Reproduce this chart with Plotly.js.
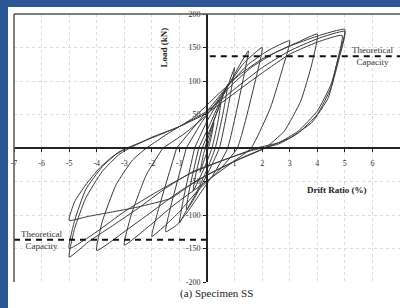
<!DOCTYPE html>
<html><head><meta charset="utf-8">
<script src="https://cdn.plot.ly/plotly-3.0.1.min.js"></script>
<style>html,body{margin:0;padding:0;background:#2c5596;}#chart{width:400px;height:308px;}</style>
</head><body><div id="chart"></div>
<script>
// Hysteresis cycles: drift ratio (%) and load (kN)
const c025x = [0, 0.12, 0.25, 0.12, 0, -0.12, -0.25, -0.12, 0];
const c025y = [0, 18, 38, 10, -6, -20, -36, -8, 6];
const c05x = [-0.08, 0.2, 0.5, 0.4, 0.18, -0.1, -0.5, -0.4, -0.18];
const c05y = [0, 35, 68, 40, 0, -30, -64, -38, 0];
const c075x = [-0.18, 0.2, 0.5, 0.75, 0.62, 0.3, 0, -0.4, -0.75, -0.62, -0.3];
const c075y = [0, 36, 68, 95, 60, 0, -32, -68, -92, -58, 0];
const c10x = [-0.3, 0.1, 0.5, 0.8, 1.0, 0.85, 0.45, 0, -0.5, -0.8, -1.0, -0.85, -0.45];
const c10y = [0, 35, 72, 98, 120, 80, 0, -40, -78, -97, -112, -75, 0];
const c15x = [-0.45, 0, 0.5, 0.8, 1.2, 1.5, 1.3, 0.75, 0.3, -0.2, -0.7, -1.1, -1.5, -1.3, -0.75];
const c15y = [0, 40, 75, 95, 125, 145, 100, 0, -35, -65, -95, -115, -125, -85, 0];
const c20x = [-0.75, -0.2, 0.4, 0.8, 1.3, 2.0, 1.75, 1.1, 0.4, -0.3, -1.0, -1.5, -2.0, -1.75, -1.1];
const c20y = [0, 38, 72, 95, 125, 150, 100, 0, -35, -62, -95, -115, -132, -90, 0];
const c30x = [-1.1, -0.5, 0.2, 0.8, 1.5, 2.2, 3.0, 2.75, 2.3, 1.6, 0.8, -0.2, -1.2, -2.2, -3.0, -2.75, -2.2, -1.6];
const c30y = [0, 30, 65, 95, 125, 145, 160, 120, 60, 0, -25, -55, -85, -120, -145, -100, -40, 0];
const c40x = [-1.6, -0.8, 0, 0.8, 1.6, 2.5, 3.3, 4.0, 3.8, 3.4, 2.8, 2.1, 1.0, 0, -1.0, -2.0, -3.0, -4.0, -3.8, -3.3, -2.7, -2.2];
const c40y = [0, 22, 50, 90, 120, 143, 158, 170, 125, 70, 25, 0, -20, -40, -65, -95, -125, -153, -110, -55, -18, 0];
const c5ax = [-2.2, -1.4, -0.5, 0.4, 1.2, 2.0, 3.0, 4.0, 5.0, 4.8, 4.5, 4.0, 3.3, 2.6, 1.8, 0.8, -0.5, -1.5, -2.5, -3.5, -4.3, -5.0, -4.8, -4.4, -3.8, -3.2, -2.8];
const c5ay = [0, 22, 45, 80, 110, 133, 152, 167, 177, 140, 95, 55, 25, 8, 0, -15, -35, -60, -90, -118, -140, -163, -120, -75, -35, -10, 0];
const c5bx = [-2.8, -2.0, -1.0, 0, 1.0, 2.0, 3.0, 4.0, 5.0, 4.8, 4.5, 4.0, 3.3, 2.6, 1.6, 0.6, -0.6, -1.8, -3.0, -4.0, -5.0, -4.8, -4.4, -3.8, -3.2, -2.9];
const c5by = [0, 16, 32, 55, 88, 120, 145, 163, 174, 135, 90, 50, 22, 6, -4, -18, -38, -65, -95, -125, -150, -108, -62, -28, -6, 0];
const c5cx = [-2.9, -2.0, -1.0, 0, 1.0, 2.0, 3.0, 4.0, 4.9, 4.7, 4.4, 3.8, 3.0, 2.3, 1.4, 0.5, -0.5, -1.3, -2.5, -3.5, -4.3, -5.0, -4.8, -4.4, -3.9, -3.4, -2.9];
const c5cy = [0, 15, 32, 52, 82, 112, 140, 158, 168, 125, 75, 38, 15, 3, -12, -30, -52, -75, -88, -96, -102, -108, -80, -55, -30, -12, 0];
// Theoretical capacity (kN)
const capPos = 137;
const capNeg = -137;
const capPosX = [0.1, 7];
const capNegX = [-7, 0];
// Tick labels
const xTicks = [-7, -6, -5, -4, -3, -2, -1, 1, 2, 3, 4, 5, 6, 7];
const yTicks = [-200, -150, -100, -50, 50, 100, 150, 200];

const cycles = [[c025x,c025y],[c05x,c05y],[c075x,c075y],[c10x,c10y],[c15x,c15y],[c20x,c20y],[c30x,c30y],[c40x,c40y],[c5ax,c5ay],[c5bx,c5by],[c5cx,c5cy]];
const traces = cycles.map(c => ({x:c[0], y:c[1], mode:'lines', line:{color:'#3a3a3a', width:1, shape:'spline', smoothing:0.45}, hoverinfo:'skip'}));
traces.push({x:capPosX, y:[capPos,capPos], mode:'lines', line:{color:'#111', width:2, dash:'6px,5px'}});
traces.push({x:capNegX, y:[capNeg,capNeg], mode:'lines', line:{color:'#111', width:2, dash:'6px,5px'}});

const serif = 'Liberation Serif, DejaVu Serif, serif';
const axisCommon = {anchor:'free', position:0.5, showline:true, linecolor:'#222', linewidth:2,
  ticks:'outside', ticklen:3, tickcolor:'#222', showgrid:true, gridcolor:'#dcdcdc', griddash:'dot',
  gridwidth:1, zeroline:false, fixedrange:true, tickfont:{family:serif, size:8, color:'#333'}};
const layout = {
  width:400, height:308,
  margin:{l:14, r:0, t:14, b:26},
  paper_bgcolor:'#2c5596', plot_bgcolor:'white',
  showlegend:false,
  font:{family:serif, size:8, color:'#333'},
  xaxis:Object.assign({range:[-7,7], tickvals:xTicks, ticktext:xTicks.map(String), ticklabelstandoff:4}, axisCommon),
  yaxis:Object.assign({range:[-200,200], tickvals:yTicks, ticktext:yTicks.map(String), ticklabelstandoff:1}, axisCommon),
  shapes:[
    {type:'rect', xref:'paper', yref:'paper', x0:-0.0155, x1:1.01, y0:-0.11, y1:1.026, fillcolor:'white', line:{width:0}, layer:'below'},
    {type:'line', xref:'paper', yref:'paper', x0:0, x1:1, y0:1, y1:1, line:{color:'#555', width:1.5}},
    {type:'line', xref:'paper', yref:'paper', x0:0, x1:0, y0:0, y1:1, line:{color:'#555', width:1.5}}
  ],
  annotations:[
    {text:'<b>Load (kN)</b>', x:-1.56, y:150, xref:'x', yref:'y', textangle:-90, showarrow:false, font:{family:serif, size:9, color:'#222'}},
    {text:'<b>Drift Ratio (%)</b>', x:4.7, y:-62, xref:'x', yref:'y', showarrow:false, font:{family:serif, size:9, color:'#222'}},
    {text:'Theoretical<br>Capacity', x:6.0, y:137, xref:'x', yref:'y', showarrow:false, font:{family:serif, size:9, color:'#333'}},
    {text:'Theoretical<br>Capacity', x:-6.0, y:-137, xref:'x', yref:'y', showarrow:false, font:{family:serif, size:9, color:'#333'}},
    {text:'(a) Specimen SS', x:0.525, y:-0.075, xref:'paper', yref:'paper', showarrow:false, font:{family:serif, size:11, color:'#222'}}
  ]
};
Plotly.newPlot('chart', traces, layout, {staticPlot:true, displayModeBar:false});
</script></body></html>
